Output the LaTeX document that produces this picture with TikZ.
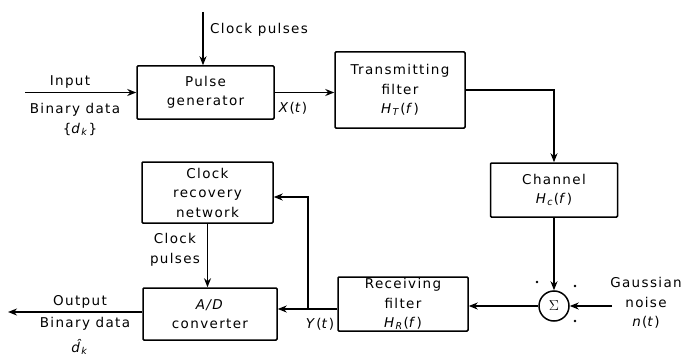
\documentclass[tikz,border=0pt]{standalone}
\usepackage{fontspec}
\setmainfont{DejaVu Sans}[LetterSpace=10]
\usetikzlibrary{arrows.meta,calc}
\newcommand\vi[1]{\textit{#1}}
\newcommand\vsub[2]{\textit{#1}\textsubscript{\textit{#2}}}
\begin{document}
\begin{tikzpicture}[x=1pt,y=-1pt,
  txt/.style={font=\fontsize{13.5}{19.5}\selectfont, align=center, inner sep=0pt},
  box/.style={txt, draw, line width=1.5pt, rounded corners=1pt},
  conn/.style={line width=1.5pt, -{Stealth[length=9pt,width=7pt]}},
  sgn/.style={fill, circle, inner sep=0pt, minimum size=2.6pt}]
\useasboundingbox (0,0) rectangle (686,361);
% blocks
\node[box, minimum width=137pt, minimum height=53pt] (pg) at (205.5,92.5) {Pulse\\generator};
\node[box, minimum width=130pt, minimum height=76pt] (tf) at (400,90) {Transmitting\\filter\\\vsub{H}{T}(\vi{f})};
\node[box, minimum width=127pt, minimum height=54pt] (ch) at (554,190) {Channel\\\vsub{H}{c}(\vi{f})};
\node[draw, circle, line width=1.5pt, minimum size=30pt, inner sep=0pt, font=\fontsize{13.5}{16}\selectfont] (sum) at (554,306) {$\Sigma$};
\node[box, minimum width=130pt, minimum height=54pt] (rf) at (403,304) {Receiving\\filter\\\vsub{H}{R}(\vi{f})};
\node[box, minimum width=134pt, minimum height=52pt] (ad) at (210,314) {\textit{A/D}\\converter};
\node[box, minimum width=131pt, minimum height=61pt] (cr) at (207.5,192.5) {Clock\\recovery\\network};
% coordinates
\coordinate (ctop) at (203,12);
\coordinate (in) at (25,92.5);
\coordinate (nz) at (612,306);
\coordinate (j) at (308,309);
\coordinate (jt) at (308,197);
\coordinate (out) at (8,312);
% connectors
\draw[conn] (ctop) -- (ctop |- pg.north);
\draw[conn] (in) -- (pg.west);
\draw[conn] (pg.east) -- (pg.east -| tf.west);
\draw[conn] (tf.east) -| (ch.north);
\draw[conn] (ch.south) -- (sum.north);
\draw[conn] (nz) -- (sum.east);
\draw[conn] (sum.west) -- (sum.west -| rf.east);
\draw[conn] (rf.west |- j) -- (ad.east |- j);
\draw[conn] (j) -- (jt) -- (cr.east |- jt);
\draw[conn] (cr.south) -- (cr.south |- ad.north);
\draw[conn] (ad.west |- out) -- (out);
% labels
\node[txt, anchor=west] (lcp) at (210,30) {Clock pulses};
\node[txt] (lin) at (70,82) {Input};
\node[txt] (lbd) at (75,110) {Binary data};
\node[txt] (ldk) at (80,129) {\{\vsub{d}{k}\}};
\node[txt] (lx) at (293,108) {\vi{X}(\vi{t})};
\node[txt] (lcp2) at (175,250) {Clock\\pulses};
\node[txt] (lout) at (80,302) {Output};
\node[txt] (lbd2) at (85,324) {Binary data};
\node[txt] (ldh) at (80,347) {\textit{\^{d}}\textsubscript{\textit{k}}};
\node[txt] (ly) at (320,324) {\vi{Y}(\vi{t})};
\node[txt] (lgn) at (646,303) {Gaussian\\noise\\\vi{n}(\vi{t})};
\node[sgn] (s1) at (537,282) {};
\node[sgn] (s2) at (575,286) {};
\node[sgn] (s3) at (575,321) {};
\end{tikzpicture}
\end{document}
